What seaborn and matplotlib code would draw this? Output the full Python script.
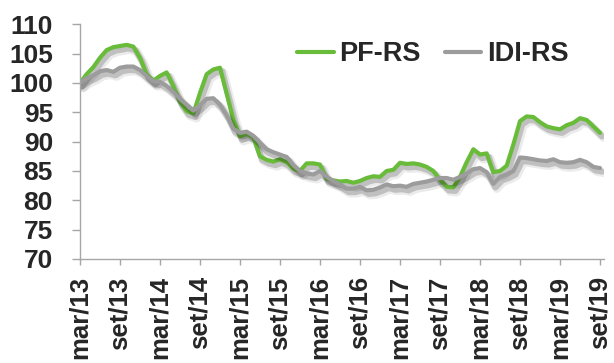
import matplotlib
matplotlib.use("Agg")
import matplotlib.pyplot as plt
import matplotlib.patheffects as pe
import numpy as np
import pandas as pd
import seaborn as sns

# Monthly index values, mar/13 .. set/19
pf_rs = [
    100.0, 101.5, 102.7, 104.3, 105.6, 106.1, 106.3, 106.5, 106.2, 104.3,
    101.5, 100.4, 101.2, 101.8, 99.5, 96.8, 95.2, 94.8, 98.3, 101.5,
    102.3, 102.6, 98.2, 93.8, 90.9, 91.3, 90.8, 87.5, 86.9, 86.6,
    87.0, 86.5, 85.4, 85.0, 86.3, 86.3, 86.1, 83.7, 83.4, 83.2,
    83.3, 83.0, 83.3, 83.8, 84.1, 84.0, 85.0, 85.2, 86.4, 86.2,
    86.3, 86.1, 85.7, 85.0, 83.5, 82.3, 82.2, 84.0, 86.5, 88.7,
    87.8, 88.0, 84.8, 85.0, 85.9, 89.5, 93.5, 94.3, 94.2, 93.3,
    92.6, 92.3, 92.1, 92.8, 93.2, 94.0, 93.7, 92.6, 91.5,
]
idi_rs = [
    100.0, 100.8, 101.3, 102.0, 102.2, 101.9, 102.6, 102.8, 102.8, 102.2,
    101.2, 100.3, 100.2, 99.5, 98.5, 97.3, 96.3, 95.3, 96.2, 97.3,
    97.4, 96.3, 94.5, 92.2, 91.5, 91.7, 91.0, 89.8, 88.7, 88.2,
    87.8, 87.4, 86.0, 85.0, 84.6, 84.4, 85.0, 84.0, 83.3, 82.7,
    82.0, 82.0, 82.3, 81.7, 81.8, 82.2, 82.7, 82.4, 82.5, 82.3,
    82.8, 83.0, 83.2, 83.5, 83.8, 83.8, 83.5, 84.0, 84.6, 85.3,
    85.5, 84.8, 82.8, 84.0, 84.4, 85.0, 87.3, 87.2, 87.0, 86.8,
    86.7, 87.0, 86.5, 86.4, 86.5, 86.9, 86.5, 85.7, 85.5,
]
tick_labels = ["mar/13", "set/13", "mar/14", "set/14", "mar/15", "set/15",
               "mar/16", "set/16", "mar/17", "set/17", "mar/18", "set/18",
               "mar/19", "set/19"]
series_names = ["PF-RS", "IDI-RS"]
colors = ["#69bb3a", "#9c9c9c"]

months = np.arange(len(pf_rs))
df = pd.DataFrame({
    "mes": np.concatenate([months, months]),
    "indice": pf_rs + idi_rs,
    "serie": [series_names[0]] * len(pf_rs) + [series_names[1]] * len(idi_rs),
})

sns.set_theme(style="white")
plt.rcParams["font.family"] = ["Liberation Sans", "DejaVu Sans"]
plt.rcParams["font.weight"] = "bold"

W, H = 614, 363
fig = plt.figure(figsize=(W / 100, H / 100), dpi=100)
ax = fig.add_axes([80 / W, 1 - 259 / H, (604 - 80) / W, (259 - 24.3) / H])

sns.lineplot(data=df, x="mes", y="indice", hue="serie", hue_order=series_names,
             palette=colors, linewidth=3.0, ax=ax, legend=False)

shadow = [pe.SimpleLineShadow(offset=(1.5, -2.5), shadow_color="#000000", alpha=0.18,
                              linewidth=4.5),
          pe.SimpleLineShadow(offset=(2.5, -3.5), shadow_color="#000000", alpha=0.08,
                              linewidth=6),
          pe.Normal()]
for line in ax.get_lines():
    line.set_path_effects(shadow)
    line.set_solid_joinstyle("round")
    line.set_solid_capstyle("round")

ax.set_xlim(0, 78.6)
ax.set_ylim(70, 110)
ax.set_yticks(np.arange(70, 111, 5))
ax.set_xticks(np.arange(0, len(pf_rs), 6))
ax.set_xticklabels(tick_labels, rotation=90)
ax.set_xlabel("")
ax.set_ylabel("")

for side in ["top", "right"]:
    ax.spines[side].set_visible(False)
for side in ["left", "bottom"]:
    ax.spines[side].set_color("#a6a6a6")
    ax.spines[side].set_linewidth(1.0)

txt = "#262626"
ax.tick_params(axis="y", which="major", direction="out", length=6, width=1,
               color="#a6a6a6", pad=13.5, labelsize=19, labelcolor=txt, left=True)
ax.tick_params(axis="x", which="major", direction="out", length=4.5, width=1,
               color="#a6a6a6", pad=8, labelsize=18.5, labelcolor=txt, bottom=True)
for lab in ax.get_xticklabels() + ax.get_yticklabels():
    lab.set_fontweight("bold")

handles = [plt.Line2D([], [], color=c, linewidth=3.0) for c in colors]
fig.legend(handles, series_names, loc="center left",
           bbox_to_anchor=(297 / W, 1 - 54 / H), ncol=2, frameon=False,
           handlelength=1.35, handletextpad=0.2, columnspacing=0.9,
           borderpad=0, borderaxespad=0,
           prop={"size": 19.5, "weight": "bold"}, labelcolor=txt)

fig.savefig("out.png", dpi=100)
